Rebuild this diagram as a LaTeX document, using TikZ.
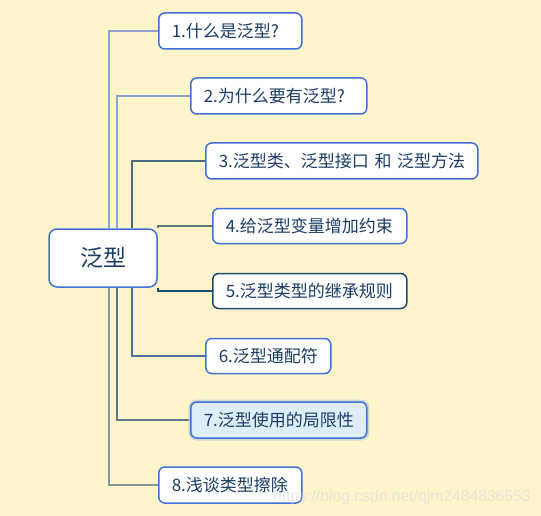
\documentclass[tikz,border=0pt]{standalone}
\usepackage{fontspec}
\setmainfont{Noto Sans CJK SC}
\newfontfamily\wmfont{Liberation Sans}
\definecolor{bg}{HTML}{FDF4CC}
\definecolor{boxblue}{HTML}{4170D6}
\definecolor{boxdark}{HTML}{1F4A6E}
\definecolor{txt}{HTML}{1B3C66}
\definecolor{selfill}{HTML}{DDEEF9}
\definecolor{glow}{HTML}{B9CDD6}
\definecolor{linkA}{HTML}{8CA3CC}
\definecolor{linkB}{HTML}{4A6B78}
\definecolor{linkC}{HTML}{5A7A80}
\definecolor{linkD}{HTML}{1F4F6E}
\definecolor{linkE}{HTML}{4F6FA2}
\definecolor{linkF}{HTML}{5E7686}
\definecolor{linkG}{HTML}{8595A0}
\pgfdeclarelayer{bgfill}
\pgfdeclarelayer{links}
\pgfsetlayers{bgfill,links,main}
\tikzset{
  topicbox/.style={draw=boxblue, line width=1.5pt, fill=white, rounded corners=6pt,
    text=txt, font=\fontsize{17pt}{19pt}\selectfont, anchor=west, align=left,
    inner xsep=13pt, inner ysep=0pt},
  rootbox/.style={draw=boxblue, line width=1.5pt, fill=white, rounded corners=8pt,
    text=txt, font=\fontsize{23pt}{26pt}\selectfont,
    minimum width=108pt, minimum height=58pt, inner sep=0pt},
  link/.style={line width=2pt},
}
\begin{document}
\begin{tikzpicture}[x=1pt,y=-1pt]
\begin{pgfonlayer}{bgfill}
\fill[bg] (0,0) rectangle (541,516);
\end{pgfonlayer}
\useasboundingbox (0,0) rectangle (541,516);

\node[rootbox] (c) at (103,258) {泛型};
\node[topicbox, text width=117pt, minimum height=36pt] (n1) at (158,31) {\mbox{1.什么是泛型?}};
\node[topicbox, text width=150pt, minimum height=36pt] (n2) at (190,96) {\mbox{2.为什么要有泛型?}};
\node[topicbox, text width=246pt, minimum height=36pt] (n3) at (205,161) {\mbox{3.泛型类、泛型接口 和 泛型方法}};
\node[topicbox, text width=168pt, minimum height=35pt] (n4) at (212,226) {\mbox{4.给泛型变量增加约束}};
\node[topicbox, draw=boxdark, text width=168pt, minimum height=35pt] (n5) at (212,291) {\mbox{5.泛型类型的继承规则}};
\node[topicbox, text width=99pt, minimum height=35pt] (n6) at (205,356) {\mbox{6.泛型通配符}};
\node[topicbox, fill=selfill, preaction={draw=glow, line width=5pt, opacity=0.7},
      text width=150pt, minimum height=36pt] (n7) at (190,420) {\mbox{7.泛型使用的局限性}};
\node[topicbox, text width=117pt, minimum height=36pt] (n8) at (158,485) {\mbox{8.浅谈类型擦除}};

\coordinate (t1) at ([xshift=61pt]c.north west);
\coordinate (t2) at ([xshift=69pt]c.north west);
\coordinate (t3) at ([xshift=84pt]c.north west);
\coordinate (b3) at ([xshift=84pt]c.south west);
\coordinate (b2) at ([xshift=69pt]c.south west);
\coordinate (b1) at ([xshift=61pt]c.south west);

\begin{pgfonlayer}{links}
\draw[link, linkA] (t1) |- (n1.west);
\draw[link, linkA] (t2) |- (n2.west);
\draw[link, linkB] (t3) |- (n3.west);
\draw[link, linkC] (c.north east) |- (n4.west);
\draw[link, linkD] (c.south east) |- (n5.west);
\draw[link, linkE] (b3) |- (n6.west);
\draw[link, linkF] (b2) |- (n7.west);
\draw[link, linkG] (b1) |- (n8.west);
\end{pgfonlayer}

\node[font=\wmfont\fontsize{15.7pt}{17pt}\selectfont, text=gray!30, opacity=0.6, anchor=west, inner sep=0pt] (wm) at (273,497) {https://blog.csdn.net/qjm2484836553};
\end{tikzpicture}
\end{document}
